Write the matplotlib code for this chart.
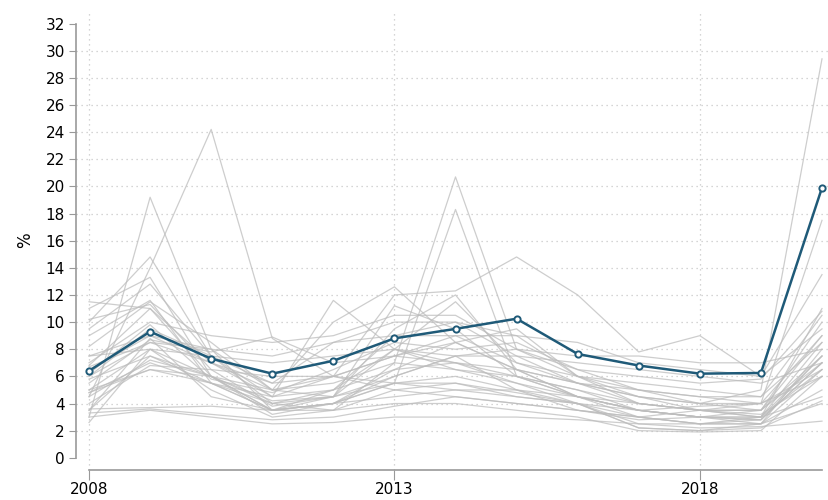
import matplotlib
matplotlib.use("Agg")
import matplotlib.pyplot as plt
import numpy as np

# ── Data ──────────────────────────────────────────────────────────────────────
years = [2008, 2009, 2010, 2011, 2012, 2013, 2014, 2015, 2016, 2017, 2018, 2019, 2020]

highlight = [6.4, 9.3, 7.3, 6.2, 7.15, 8.8, 9.5, 10.25, 7.65, 6.8, 6.2, 6.25, 19.9]

other_series = [
    [4.5, 14.0, 24.2, 8.8, 6.0, 5.0, 4.5, 4.0, 3.5, 2.8, 3.0, 3.5, 7.0],
    [3.0, 19.2, 8.0, 3.5, 5.0, 8.0, 7.0, 5.5, 4.0, 2.2, 2.0, 2.5, 6.5],
    [5.0, 8.0, 6.0, 4.0, 3.5, 7.0, 20.7, 8.0, 6.5, 5.0, 4.0, 3.5, 9.0],
    [3.5, 7.5, 5.5, 3.5, 4.0, 5.5, 18.3, 6.0, 4.5, 3.5, 3.0, 2.5, 8.0],
    [6.0, 8.5, 7.0, 5.5, 6.0, 12.0, 12.3, 14.8, 12.0, 7.8, 9.0, 6.0, 13.5],
    [6.5, 9.0, 7.0, 5.0, 4.5, 6.0, 7.5, 8.0, 6.0, 4.5, 4.0, 5.0, 29.4],
    [10.0, 14.8, 7.5, 4.0, 5.0, 9.0, 10.0, 7.5, 5.5, 4.0, 3.5, 3.0, 7.5],
    [11.0, 13.3, 6.0, 3.5, 4.5, 11.2, 9.5, 6.0, 5.0, 3.5, 3.0, 3.0, 8.5],
    [9.5, 12.8, 7.5, 4.5, 11.6, 8.0, 6.5, 5.5, 4.5, 3.0, 2.5, 2.8, 7.0],
    [8.2, 11.5, 8.5, 5.0, 10.0, 12.6, 8.5, 9.5, 6.0, 5.0, 4.5, 4.0, 17.5],
    [10.2, 11.3, 6.5, 3.8, 4.5, 8.0, 11.5, 7.0, 5.5, 4.5, 3.5, 3.0, 11.0],
    [6.8, 11.0, 7.0, 4.5, 6.0, 7.5, 9.0, 7.0, 6.0, 4.0, 3.5, 3.5, 10.0],
    [7.0, 10.0, 9.0, 8.5, 9.0, 10.5, 10.5, 8.0, 7.5, 7.5, 7.0, 7.0, 8.0],
    [6.7, 8.5, 8.0, 7.5, 8.5, 9.0, 9.0, 9.0, 8.5, 7.0, 6.5, 6.0, 9.5],
    [7.5, 8.0, 7.5, 7.0, 7.5, 8.0, 7.5, 7.5, 7.0, 6.5, 6.0, 5.5, 7.0],
    [5.8, 7.5, 6.0, 5.0, 6.0, 7.5, 8.5, 6.5, 5.5, 4.5, 4.0, 4.0, 6.5],
    [4.8, 7.0, 5.5, 4.5, 5.0, 6.5, 7.0, 6.0, 5.0, 4.0, 3.5, 4.0, 6.0],
    [4.8, 6.5, 5.5, 4.0, 4.5, 5.5, 6.0, 5.0, 4.0, 3.0, 2.5, 3.0, 6.5],
    [3.5, 8.8, 4.5, 3.5, 3.5, 5.0, 5.5, 4.5, 4.0, 2.5, 2.5, 2.5, 5.0],
    [3.6, 3.7, 3.8, 3.5, 4.0, 4.5, 5.0, 4.5, 4.0, 3.5, 3.0, 3.0, 4.5],
    [3.3, 3.6, 3.2, 2.8, 3.0, 3.8, 4.5, 4.0, 3.5, 3.0, 2.5, 2.5, 4.0],
    [3.0, 3.5, 3.0, 2.5, 2.6, 3.0, 3.0, 3.0, 2.8, 2.5, 2.2, 2.3, 2.7],
    [2.6, 8.0, 5.0, 3.0, 3.5, 4.0, 4.0, 3.5, 3.0, 2.0, 1.9, 2.0, 6.0],
    [4.0, 6.8, 6.5, 6.0, 6.0, 5.5, 5.0, 5.0, 4.5, 4.0, 3.5, 3.5, 7.5],
    [5.5, 8.7, 7.8, 8.9, 7.0, 7.5, 7.0, 6.5, 5.5, 5.0, 4.5, 4.5, 8.5],
    [9.0, 11.6, 5.5, 3.5, 4.0, 6.5, 8.5, 6.5, 4.5, 3.5, 3.0, 2.8, 7.5],
    [6.0, 9.5, 7.5, 5.5, 8.5, 10.0, 10.0, 9.0, 6.0, 5.5, 5.0, 4.5, 10.5],
    [4.5, 7.2, 6.0, 3.5, 4.0, 5.5, 5.5, 4.8, 4.0, 2.2, 2.0, 2.2, 4.2],
    [7.5, 9.0, 8.0, 5.0, 5.5, 7.0, 6.5, 6.0, 4.5, 3.5, 3.8, 4.0, 9.0],
    [11.5, 11.0, 6.0, 3.2, 4.0, 6.0, 7.5, 5.0, 3.5, 3.0, 3.5, 3.2, 6.0],
    [5.0, 6.5, 6.0, 4.2, 4.5, 9.5, 12.0, 6.5, 4.5, 3.5, 3.0, 2.8, 7.0],
    [6.2, 9.8, 5.8, 4.8, 6.5, 8.5, 8.0, 8.5, 6.5, 6.0, 5.5, 5.8, 10.8],
]

y_ticks = list(range(0, 33, 2))
x_ticks = [2008, 2013, 2018]

# ── Figure ───────────────────────────────────────────────────────────────────
fig = plt.figure(figsize=(8.29, 5.0), dpi=100)
ax = fig.add_axes([76 / 829, 30 / 500, 752 / 829, 460 / 500])

for s in other_series:
    ax.plot(years, s, color='#bdbdbd', linewidth=0.9, alpha=0.75, zorder=2)

ax.plot(years, highlight, color='#1f5a78', linewidth=1.8, marker='o', markersize=4.5,
        markerfacecolor='white', markeredgecolor='#1f5a78', markeredgewidth=1.4, zorder=5)

ax.set_xlim(2008 - 13 / 61, 2020 + 6 / 61)
ax.set_ylim(-0.9, 33)

ax.set_yticks(y_ticks)
ax.set_yticklabels([str(v) for v in y_ticks], fontsize=11)
ax.set_xticks(x_ticks)
ax.set_xticklabels([str(v) for v in x_ticks], fontsize=11)
ax.tick_params(axis='y', length=5, color='#999999', pad=3)
ax.tick_params(axis='x', length=7, color='#999999', pad=1.5)

# dotted grid
for v in y_ticks[1:-1]:
    ax.axhline(v, color='#c8c8c8', linestyle=(0, (1, 3)), linewidth=0.9, zorder=1)
for v in x_ticks:
    ax.axvline(v, color='#c8c8c8', linestyle=(0, (1, 3)), linewidth=0.9, zorder=1)

for side in ['top', 'right']:
    ax.spines[side].set_visible(False)
ax.spines['left'].set_bounds(0, 32)
ax.spines['bottom'].set_bounds(2008, 2020)
ax.spines['left'].set_color('#999999')
ax.spines['bottom'].set_color('#999999')
ax.spines['left'].set_linewidth(1.2)
ax.spines['bottom'].set_linewidth(1.2)

ax.set_ylabel('%', fontsize=12, labelpad=8)

fig.savefig('out.png', dpi=100)
